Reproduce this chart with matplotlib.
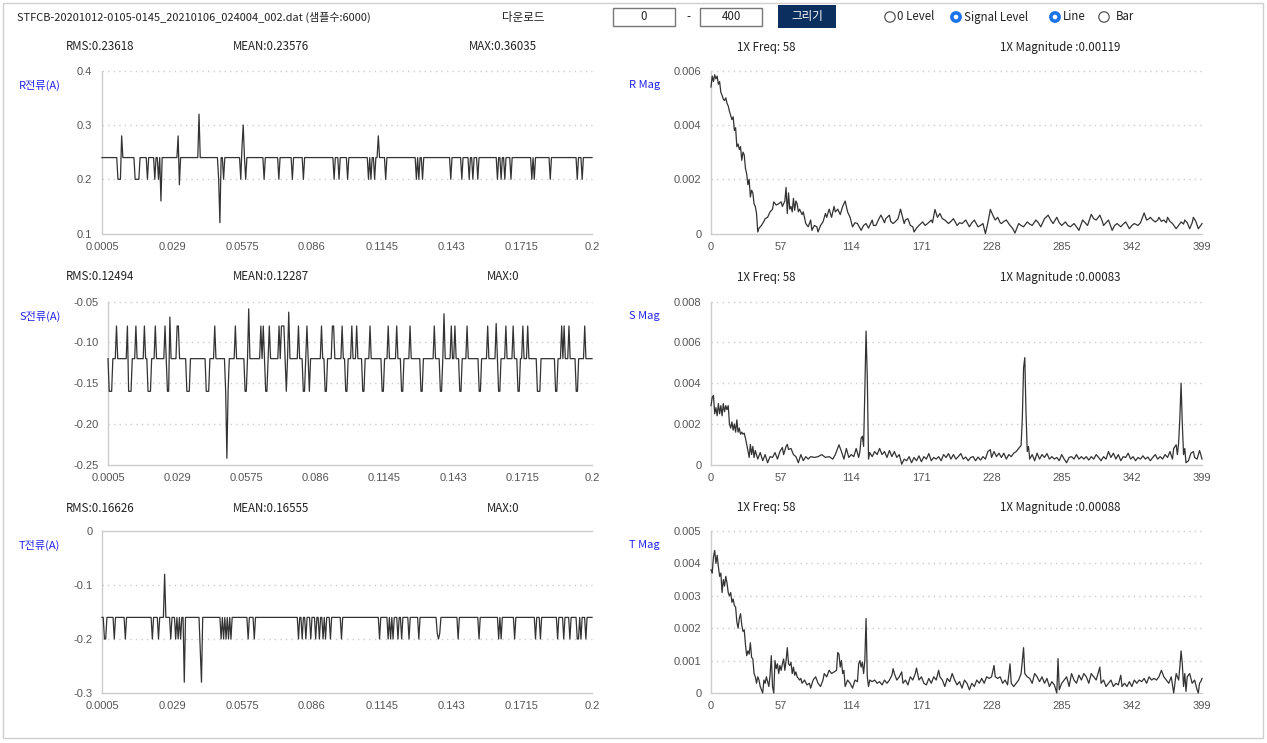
import numpy as np
import matplotlib
matplotlib.use("Agg")
import matplotlib.pyplot as plt
from matplotlib.patches import Rectangle, Circle

# ---------------- data ----------------
file_title = "STFCB-20201012-0105-0145_20210106_024004_002.dat (샘플수:6000)"
range_from, range_to = "0", "400"

time_ticks = [0.0005, 0.029, 0.0575, 0.086, 0.1145, 0.143, 0.1715, 0.2]
time_tick_labels = ["0.0005", "0.029", "0.0575", "0.086", "0.1145", "0.143", "0.1715", "0.2"]
freq_ticks = [0, 57, 114, 171, 228, 285, 342, 399]
n_samples = 400
dt = 0.0005

r_stats = ["RMS:0.23618", "MEAN:0.23576", "MAX:0.36035"]
s_stats = ["RMS:0.12494", "MEAN:0.12287", "MAX:0"]
t_stats = ["RMS:0.16626", "MEAN:0.16555", "MAX:0"]
r_fft_stats = ["1X Freq: 58", "1X Magnitude :0.00119"]
s_fft_stats = ["1X Freq: 58", "1X Magnitude :0.00083"]
t_fft_stats = ["1X Freq: 58", "1X Magnitude :0.00088"]

# time signals: steady level + (sample index, value) deviations
r_base = 0.24
r_events = [(13, 0.2), (14, 0.2), (15, 0.2), (16, 0.28), (27, 0.2), (28, 0.2), (29, 0.2), (30, 0.2),
            (37, 0.2), (43, 0.2), (46, 0.2), (48, 0.16), (62, 0.28), (63, 0.19), (79, 0.32),
            (95, 0.2), (96, 0.12), (99, 0.2), (113, 0.2), (114, 0.26), (115, 0.3), (117, 0.2),
            (132, 0.2), (144, 0.2), (155, 0.2), (164, 0.2), (189, 0.2), (193, 0.2), (200, 0.2),
            (217, 0.2), (219, 0.2), (222, 0.2), (225, 0.28), (231, 0.2), (256, 0.2), (258, 0.2),
            (261, 0.2), (284, 0.2), (293, 0.2), (299, 0.2), (302, 0.2), (306, 0.2), (322, 0.2),
            (325, 0.2), (328, 0.2), (333, 0.2), (350, 0.2), (352, 0.2), (365, 0.2), (387, 0.2),
            (391, 0.2)]

s_base = -0.12
s_events = [(1, -0.16), (2, -0.16), (3, -0.16), (7, -0.08), (16, -0.08), (17, -0.16), (18, -0.16),
            (19, -0.16), (23, -0.08), (30, -0.08), (33, -0.16), (34, -0.16), (35, -0.16), (39, -0.08),
            (47, -0.08), (49, -0.16), (50, -0.16), (51, -0.069), (57, -0.08), (58, -0.08),
            (65, -0.16), (66, -0.16), (67, -0.16), (81, -0.16), (82, -0.16), (83, -0.16), (88, -0.08),
            (97, -0.16), (98, -0.242), (99, -0.16), (105, -0.08), (113, -0.16), (114, -0.16),
            (116, -0.059), (126, -0.08), (128, -0.08), (130, -0.16), (131, -0.16), (133, -0.08),
            (141, -0.08), (143, -0.08), (144, -0.08), (145, -0.08), (147, -0.16), (149, -0.063),
            (157, -0.08), (161, -0.16), (162, -0.16), (164, -0.08), (166, -0.16), (176, -0.08),
            (179, -0.16), (180, -0.16), (185, -0.08), (186, -0.08), (193, -0.08), (196, -0.16),
            (197, -0.16), (201, -0.08), (205, -0.08), (210, -0.16), (211, -0.16), (216, -0.08),
            (226, -0.16), (227, -0.16), (231, -0.08), (238, -0.08), (242, -0.16), (243, -0.16),
            (249, -0.08), (258, -0.16), (259, -0.16), (269, -0.08), (274, -0.16), (275, -0.16),
            (277, -0.065), (283, -0.08), (286, -0.08), (290, -0.16), (291, -0.16), (296, -0.08),
            (306, -0.16), (307, -0.16), (313, -0.08), (320, -0.077), (322, -0.16), (323, -0.16),
            (328, -0.08), (334, -0.08), (338, -0.16), (339, -0.16), (342, -0.08), (346, -0.08),
            (354, -0.16), (355, -0.16), (356, -0.16), (369, -0.16), (370, -0.16), (374, -0.08),
            (376, -0.08), (380, -0.08), (386, -0.16), (387, -0.16), (393, -0.08)]

t_base = -0.16
t_events = [(2, -0.2), (3, -0.2), (10, -0.2), (19, -0.2), (41, -0.2), (46, -0.2), (51, -0.08),
            (56, -0.2), (60, -0.2), (62, -0.2), (64, -0.2), (67, -0.28), (80, -0.22), (81, -0.28),
            (97, -0.2), (99, -0.2), (101, -0.2), (103, -0.2), (105, -0.2), (119, -0.2), (124, -0.2),
            (160, -0.2), (163, -0.2), (166, -0.2), (170, -0.2), (174, -0.2), (177, -0.2), (180, -0.2),
            (182, -0.2), (186, -0.2), (195, -0.2), (226, -0.2), (233, -0.2), (235, -0.2), (237, -0.2),
            (241, -0.2), (244, -0.2), (250, -0.2), (258, -0.2), (273, -0.19), (274, -0.2),
            (275, -0.19), (290, -0.2), (307, -0.2), (323, -0.2), (325, -0.2), (336, -0.2),
            (353, -0.2), (357, -0.2), (371, -0.2), (376, -0.2), (381, -0.2), (387, -0.2),
            (388, -0.2), (390, -0.2), (394, -0.2)]

# spectra: (bin, magnitude in 1e-4 units)
r_mag = [(0, 54), (1, 58), (2, 56), (3, 58.5), (4, 57), (5, 58), (6, 55), (7, 56), (8, 52), (9, 51),
         (10, 49.5), (11, 49), (12, 50), (13, 48), (14, 47), (15, 45), (17, 42), (18, 43), (19, 38),
         (20, 39), (21, 32), (22, 33), (23, 31), (24, 32), (25, 27), (26, 30), (27, 29), (28, 24),
         (29, 22), (30, 18), (31, 20), (32, 13.5), (33, 16), (34, 15), (35, 11), (36, 10), (37, 7.4),
         (38, 0.6), (39, 2), (41, 3), (43, 4.5), (44, 5.5), (46, 6), (48, 8), (50, 9), (51, 11.7),
         (53, 10.5), (55, 11), (57, 11.7), (58, 10), (60, 12), (61, 17), (62, 7.4), (63, 15), (64, 9),
         (65, 10), (66, 8), (67, 13), (68, 8.6), (69, 12), (70, 11), (71, 8), (72, 9), (74, 7), (75, 8),
         (77, 3.7), (79, 2.5), (81, 5), (82, 1.2), (84, 3), (86, 2.5), (87, 0.6), (89, 3), (91, 4.3),
         (93, 7.4), (94, 6), (96, 9), (98, 6), (100, 10), (101, 8), (103, 9), (105, 7), (107, 10),
         (109, 12), (111, 8), (113, 6), (115, 2.5), (117, 4), (119, 3.7), (122, 1.2), (124, 3),
         (126, 3.7), (128, 2), (131, 5), (132, 3), (134, 3), (136, 5), (138, 6.8), (139, 6), (141, 4),
         (142, 5.5), (145, 6.8), (146, 4.5), (148, 3.7), (150, 4.5), (152, 5.5), (154, 9), (157, 3.7),
         (158, 5), (160, 5.5), (162, 3), (164, 2.5), (165, 0.6), (167, 2), (169, 3), (172, 4.3),
         (174, 3), (176, 3.7), (179, 5), (180, 4), (182, 8.9), (184, 6), (186, 7.4), (188, 5.5),
         (190, 5), (193, 3.7), (195, 4.5), (197, 5.5), (200, 3), (202, 4), (204, 3.7), (207, 5),
         (210, 2.5), (212, 4), (214, 5), (217, 2.5), (219, 3), (221, 3.7), (223, 0), (225, 4),
         (227, 8.9), (229, 6.8), (231, 5), (233, 6), (235, 4), (236, 3.7), (238, 4.5), (240, 5),
         (243, 3), (245, 2), (247, 0.2), (250, 3.7), (252, 3), (254, 2.5), (257, 4.3), (259, 3.5),
         (261, 3), (264, 5), (266, 4), (268, 2.5), (271, 5.5), (274, 6.8), (276, 5), (278, 3.7),
         (281, 6), (283, 4), (285, 3), (288, 4.3), (290, 3), (292, 2.5), (295, 3.7), (297, 2.5),
         (299, 1.2), (302, 5), (304, 4), (306, 3), (309, 7.1), (311, 5.5), (313, 5), (316, 6.8),
         (318, 4.5), (319, 3), (321, 4), (323, 5), (326, 1.2), (328, 3), (330, 3.7), (333, 2.5),
         (335, 3.5), (337, 4.3), (340, 1.8), (342, 3), (344, 3.7), (347, 3), (349, 4), (352, 7.6),
         (354, 5), (356, 5.5), (357, 6), (359, 5), (361, 4.3), (363, 5), (364, 6), (366, 4.5),
         (368, 5), (370, 4), (371, 6), (373, 4.5), (375, 3.7), (378, 1.8), (380, 3), (382, 4.3),
         (384, 3.5), (385, 5), (387, 4), (389, 1.8), (391, 4), (392, 6), (394, 4.5), (396, 1.8),
         (398, 3), (399, 3.7)]

s_mag = [(0, 29), (1, 33), (2, 34), (3, 25), (4, 28), (5, 24), (6, 30), (7, 25), (8, 29), (9, 24),
         (10, 30), (11, 26), (12, 29), (13, 27), (14, 29), (15, 20), (16, 18), (17, 21), (18, 17),
         (19, 20), (20, 16), (21, 22), (22, 16), (23, 18), (24, 15), (25, 16), (26, 15), (27, 15.5),
         (28, 13), (29, 10), (30, 7), (31, 3.6), (32, 10), (33, 5), (34, 9), (35, 3.6), (36, 7),
         (38, 2.8), (40, 6), (42, 2), (44, 5), (46, 1), (48, 4), (50, 3.6), (52, 6), (54, 2.8),
         (56, 6.5), (58, 8.5), (59, 5), (61, 9), (62, 10), (63, 7.5), (65, 8), (67, 5), (69, 4),
         (71, 1), (73, 5), (75, 2), (77, 4), (79, 2.8), (81, 4), (84, 3.6), (87, 4), (90, 5),
         (93, 3.6), (96, 4), (99, 2.8), (101, 5), (104, 9.8), (106, 6.5), (108, 2.8), (110, 8),
         (112, 3.6), (114, 5), (116, 4), (118, 8), (120, 3.6), (121, 6.5), (122, 13), (123, 14),
         (124, 9), (125, 36), (126, 65.5), (127, 43), (128, 2.8), (129, 6), (131, 4), (133, 6.5),
         (135, 5), (137, 8), (139, 5), (141, 6.5), (143, 3.6), (145, 7), (147, 4), (149, 6.5),
         (151, 3.6), (153, 5), (155, 0.3), (157, 2.8), (159, 2), (161, 4), (163, 1), (165, 3.6),
         (167, 2), (169, 4.4), (171, 1.5), (173, 4), (175, 2.8), (177, 5.5), (179, 2), (181, 3.6),
         (183, 2.8), (185, 4), (187, 2), (189, 5), (191, 3.6), (193, 5.5), (195, 2.8), (197, 5),
         (199, 2.8), (201, 4), (203, 5.5), (205, 2.8), (207, 3.8), (209, 2), (211, 3.6), (213, 4),
         (215, 2), (217, 3.8), (219, 2.3), (221, 4), (223, 2.8), (225, 6.5), (227, 7.4), (228, 3.6),
         (230, 6.5), (232, 4), (234, 5.7), (236, 3.6), (238, 5.7), (240, 2.8), (242, 5), (244, 4),
         (246, 5.7), (248, 6.5), (250, 8), (252, 9.5), (253, 23), (254, 47.5), (255, 52.5), (256, 25),
         (257, 6.5), (258, 9), (259, 2.8), (261, 5), (263, 2), (265, 5.7), (267, 2.8), (269, 5),
         (271, 3.6), (273, 5.5), (275, 2.8), (277, 4), (279, 2.8), (281, 3.6), (283, 2), (285, 5),
         (287, 2.8), (289, 1), (291, 3.6), (293, 4), (295, 2.8), (297, 5), (299, 2.8), (301, 4),
         (303, 2.8), (305, 4), (307, 2.3), (309, 4), (311, 2.8), (313, 5), (315, 3.6), (317, 2),
         (319, 4), (321, 2.8), (323, 6.5), (325, 3.6), (327, 5.7), (329, 2.8), (331, 5), (333, 2),
         (335, 4), (337, 3.6), (339, 5.7), (341, 2.8), (343, 4), (345, 2), (347, 3.6), (349, 2.8),
         (351, 4.4), (353, 2.8), (355, 3.8), (357, 2), (359, 3.6), (361, 5), (363, 2.8), (365, 4),
         (367, 2.8), (369, 5), (371, 3.6), (373, 6.5), (375, 2.8), (376, 8), (378, 9.8), (379, 5),
         (380, 10.6), (381, 23), (382, 40), (383, 20), (384, 5), (385, 8), (386, 1), (388, 2),
         (390, 5.7), (392, 6.5), (393, 3.6), (395, 2.8), (397, 7), (398, 5), (399, 2.8)]

t_mag = [(0, 38), (1, 37), (2, 42), (3, 44), (4, 40), (5, 42.5), (6, 39), (7, 36), (8, 37), (9, 31),
         (10, 35), (11, 33), (12, 36), (13, 34), (14, 31), (15, 30), (16, 31), (17, 28), (18, 29),
         (19, 27), (20, 26.5), (21, 22), (22, 20), (23, 23), (24, 24.5), (25, 21), (26, 19),
         (27, 19.5), (28, 15), (29, 11.5), (30, 13), (31, 12), (32, 15.5), (33, 11), (34, 10.5),
         (35, 6), (36, 5), (37, 3), (38, 5), (39, 4), (40, 2), (41, 1), (42, 0), (43, 4), (44, 3),
         (45, 5), (46, 3.5), (47, 2), (48, 5.5), (49, 11.5), (50, 2), (51, 0), (52, 10), (53, 7.5),
         (54, 9), (55, 6), (56, 8.5), (57, 7), (58, 9), (59, 10.5), (60, 7), (61, 10), (62, 14),
         (63, 9), (64, 8.5), (65, 9.5), (66, 6), (67, 8), (68, 5.5), (69, 6.5), (70, 5), (72, 4),
         (73, 4.5), (74, 3), (76, 4), (78, 2.5), (80, 3), (81, 1.5), (83, 4), (85, 5), (87, 3),
         (89, 2), (91, 4), (92, 6), (94, 5), (96, 7), (98, 6), (100, 6.5), (102, 7), (103, 12.5),
         (104, 12), (105, 8), (106, 10), (107, 6), (108, 7), (109, 2), (111, 4), (113, 3),
         (115, 1.5), (117, 4), (119, 3.5), (120, 9), (121, 10), (122, 8), (123, 9.5), (124, 6),
         (125, 10), (126, 23), (127, 5), (128, 2), (129, 4), (131, 3.5), (133, 4), (135, 3),
         (137, 3.5), (139, 2.5), (141, 4), (143, 3), (145, 4), (147, 5.5), (148, 7.5), (149, 6),
         (151, 4), (153, 5), (155, 6.5), (156, 3), (158, 4), (160, 2.5), (162, 5), (164, 4), (166, 6),
         (167, 7.7), (169, 4), (171, 5), (173, 3), (175, 2.5), (177, 4.5), (179, 3), (181, 5),
         (183, 4), (185, 7), (186, 5), (188, 4), (190, 2), (192, 4.5), (194, 3.5), (196, 6), (198, 4),
         (200, 2.5), (202, 3.5), (204, 1.5), (206, 4), (208, 3), (210, 1), (212, 3), (214, 2),
         (216, 4), (218, 3), (220, 4.5), (222, 3), (224, 5), (226, 4.5), (228, 5), (230, 8.5),
         (231, 5), (233, 4.5), (235, 5), (237, 3), (239, 4), (241, 2.5), (243, 9), (244, 3), (246, 2),
         (248, 3), (250, 4), (252, 6), (254, 14), (255, 6), (257, 5), (259, 4.5), (261, 3), (263, 6),
         (265, 5), (267, 3.5), (269, 5), (271, 3), (273, 4.5), (275, 2), (277, 3.5), (279, 2.5),
         (281, 0), (282, 10.6), (283, 1), (285, 3), (287, 4), (289, 5), (291, 2), (293, 6), (295, 4),
         (297, 3), (299, 5.5), (301, 4), (303, 6), (305, 5), (307, 3), (309, 6), (311, 5), (313, 4),
         (316, 8), (317, 3), (319, 4), (321, 2), (323, 3), (325, 4), (327, 2), (329, 3), (331, 2.5),
         (333, 5.5), (334, 2), (336, 3), (338, 2), (340, 3.5), (342, 2), (344, 4), (346, 3), (348, 4),
         (350, 3.5), (352, 4.5), (354, 3), (356, 5), (358, 4), (360, 4.5), (362, 4), (364, 5),
         (366, 7), (368, 5), (370, 4), (372, 3), (374, 5), (376, 0), (378, 6), (380, 4), (381, 8),
         (382, 13), (383, 9), (384, 2), (385, 6), (386, 0.5), (387, 5), (389, 6), (391, 3), (393, 4),
         (395, 1), (396, 0), (397, 3), (398, 3.5), (399, 4.5)]

# ---------------- figure ----------------
W, H = 1267, 743
fig = plt.figure(figsize=(W / 100, H / 100), dpi=100)
fig.patch.set_facecolor("white")
bg = fig.add_axes([0, 0, 1, 1])
bg.set_xlim(0, W)
bg.set_ylim(H, 0)
bg.axis("off")

CJK = ["Noto Sans CJK KR", "DejaVu Sans"]
LAT = ["Liberation Sans", "Noto Sans CJK KR", "DejaVu Sans"]
LINE_C = "#333333"
GRID_C = "#cccccc"
TICK_C = "#555555"

# outer frame
bg.add_patch(Rectangle((3, 3), 1260, 735, fill=False, ec="#cfcfcf", lw=1))

# header
bg.text(17, 17, file_title, family=CJK, fontsize=7.95, color="#222", va="center", ha="left")
bg.text(523, 17, "다운로드", family=CJK, fontsize=8.3, color="#222", va="center", ha="center")
bg.add_patch(Rectangle((613, 8), 62, 18, fill=False, ec="#777", lw=1))
bg.text(644, 17, range_from, family=CJK, fontsize=8.3, color="#222", va="center", ha="center")
bg.text(688, 17, "-", family=CJK, fontsize=8.3, color="#222", va="center", ha="center")
bg.add_patch(Rectangle((700, 8), 62, 18, fill=False, ec="#777", lw=1))
bg.text(731, 17, range_to, family=CJK, fontsize=8.3, color="#222", va="center", ha="center")
bg.add_patch(Rectangle((778, 5), 58, 23, fc="#0b2f5e", ec="none"))
bg.text(807, 16.5, "그리기", family=CJK, fontsize=8.3, color="white", va="center", ha="center")

radios = [(890, "0 Level", 897, False), (956, "Signal Level", 964, True),
          (1055, "Line", 1063, True), (1104, "Bar", 1116, False)]
for cx, lab, tx, on in radios:
    if on:
        bg.add_patch(Circle((cx, 17), 5.2, fc="#1a73e8", ec="#1a73e8", lw=1))
        bg.add_patch(Circle((cx, 17), 2.3, fc="white", ec="none"))
    else:
        bg.add_patch(Circle((cx, 17), 5.2, fc="white", ec="#555", lw=0.9))
    bg.text(tx, 17, lab, family=CJK, fontsize=8.3, color="#222", va="center", ha="left")


def add_ax(x0, x1, y0, y1):
    ax = fig.add_axes([x0 / W, 1 - y1 / H, (x1 - x0) / W, (y1 - y0) / H])
    ax.patch.set_alpha(0)
    return ax


def style(ax, xlim, xticks, xlabels, ylim, yticks, ylabels, solid):
    ax.set_xlim(*xlim)
    ax.set_ylim(*ylim)
    ax.set_xticks(xticks)
    ax.set_xticklabels(xlabels)
    ax.set_yticks(yticks)
    ax.set_yticklabels(ylabels)
    for s in ax.spines.values():
        s.set_visible(False)
    ax.tick_params(length=0, labelsize=8, labelcolor=TICK_C)
    ax.tick_params(axis="y", pad=7)
    ax.tick_params(axis="x", pad=6)
    for lab in ax.get_xticklabels() + ax.get_yticklabels():
        lab.set_family(LAT)
    for y in yticks:
        if y in solid:
            ax.axhline(y, color=GRID_C, lw=1, zorder=1, clip_on=False)
        else:
            ax.axhline(y, color=GRID_C, lw=1, ls=(0, (1, 3)), zorder=1, clip_on=False)
    ax.axvline(xlim[0], color=GRID_C, lw=1, zorder=1, clip_on=False)


t = dt * np.arange(1, n_samples + 1)


def build(base, events):
    y = np.full(n_samples, base)
    for i, v in events:
        y[i] = v
    return y


rows = [
    dict(y0=70.7, y1=233.6, lx=102, sig=build(r_base, r_events), ylim=(0.1, 0.4),
         yt=[0.1, 0.2, 0.3, 0.4], ytl=["0.1", "0.2", "0.3", "0.4"], solid=[0.1],
         lab="R전류(A)", stats=r_stats, stat_y=47,
         mag=r_mag, mylim=(0, 0.006), myt=[0, 0.002, 0.004, 0.006],
         mytl=["0", "0.002", "0.004", "0.006"], mlab="R Mag", fstats=r_fft_stats),
    dict(y0=301.5, y1=464.8, lx=108, sig=build(s_base, s_events), ylim=(-0.25, -0.05),
         yt=[-0.25, -0.2, -0.15, -0.1, -0.05], ytl=["-0.25", "-0.20", "-0.15", "-0.10", "-0.05"],
         solid=[-0.25], lab="S전류(A)", stats=s_stats, stat_y=277,
         mag=s_mag, mylim=(0, 0.008), myt=[0, 0.002, 0.004, 0.006, 0.008],
         mytl=["0", "0.002", "0.004", "0.006", "0.008"], mlab="S Mag", fstats=s_fft_stats),
    dict(y0=531, y1=693, lx=102, sig=build(t_base, t_events), ylim=(-0.3, 0.0),
         yt=[-0.3, -0.2, -0.1, 0.0], ytl=["-0.3", "-0.2", "-0.1", "0"], solid=[-0.3, 0.0],
         lab="T전류(A)", stats=t_stats, stat_y=508,
         mag=t_mag, mylim=(0, 0.005), myt=[0, 0.001, 0.002, 0.003, 0.004, 0.005],
         mytl=["0", "0.001", "0.002", "0.003", "0.004", "0.005"], mlab="T Mag", fstats=t_fft_stats),
]

stat_x = [100, 271, 503]
fstat_x = [766, 1060]

for r in rows:
    # time domain
    ax = add_ax(r["lx"], 592, r["y0"], r["y1"])
    style(ax, (time_ticks[0], time_ticks[-1]), time_ticks, time_tick_labels,
          r["ylim"], r["yt"], r["ytl"], r["solid"])
    ax.plot(t, r["sig"], color=LINE_C, lw=0.9, zorder=3, clip_on=False)
    bg.text(19, r["y0"] + 14.5, r["lab"], family=CJK, fontsize=8.0, color="#2222ee",
            va="center", ha="left")
    for x, s in zip(stat_x, r["stats"]):
        bg.text(x, r["stat_y"], s, family=CJK, fontsize=8.3, color="#222", va="center", ha="center")

    # spectrum
    ax2 = add_ax(711, 1202, r["y0"], r["y1"])
    style(ax2, (0, 399), freq_ticks, [str(v) for v in freq_ticks],
          r["mylim"], r["myt"], r["mytl"], [0])
    bins = [p[0] for p in r["mag"]]
    vals = [p[1] * 1e-4 for p in r["mag"]]
    ax2.plot(bins, vals, color=LINE_C, lw=0.9, zorder=3, clip_on=False)
    bg.text(629, r["y0"] + 14.5, r["mlab"], family=CJK, fontsize=8.0, color="#2222ee",
            va="center", ha="left")
    for x, s in zip(fstat_x, r["fstats"]):
        bg.text(x, r["stat_y"], s, family=CJK, fontsize=8.3, color="#222", va="center", ha="center")

fig.savefig("out.png", dpi=100, facecolor="white")
